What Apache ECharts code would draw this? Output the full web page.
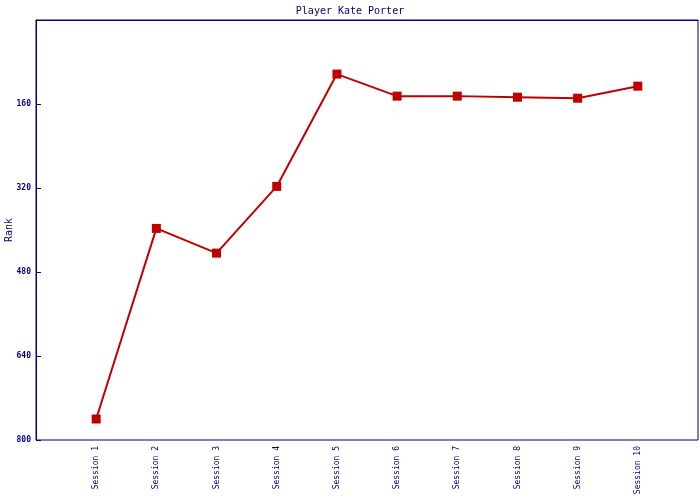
<!DOCTYPE html>
<html><head><meta charset="utf-8">
<script src="https://cdn.jsdelivr.net/npm/echarts@6/dist/echarts.min.js"></script>
<style>html,body{margin:0;padding:0;background:#fff}#c{width:700px;height:500px}</style>
</head><body><div id="c"></div>
<script>
const categories = ['Session 1','Session 2','Session 3','Session 4','Session 5','Session 6','Session 7','Session 8','Session 9','Session 10'];
const ranks = [760, 397, 444, 317, 103, 145, 145, 147, 149, 126];
const yTicks = [160, 320, 480, 640, 800];

const navy = '#000080';
const font = 'DejaVu Sans Mono';
const chart = echarts.init(document.getElementById('c'));
chart.setOption({
  animation: false,
  title: { text: 'Player Kate Porter', left: 'center', top: 1,
    textStyle: { color: navy, fontFamily: font, fontSize: 10, fontWeight: 'normal' } },
  grid: { left: 36, right: 2, top: 20, bottom: 60, show: true, borderColor: navy, borderWidth: 1,
    containLabel: false, outerBoundsMode: 'none' },
  xAxis: {
    type: 'value', min: 0, max: categories.length + 1, interval: 1,
    axisLine: { lineStyle: { color: navy } },
    axisTick: { show: false },
    splitLine: { show: false },
    axisLabel: { rotate: 90, margin: 6, color: navy, fontFamily: font, fontSize: 8,
      formatter: v => (v >= 1 && v <= categories.length) ? categories[v - 1] : '' }
  },
  yAxis: {
    type: 'value', inverse: true, min: 0, max: 800, interval: 160,
    name: 'Rank', nameLocation: 'middle', nameGap: 22, nameMoveOverlap: false,
    nameTextStyle: { color: navy, fontFamily: font, fontSize: 10 },
    axisLine: { show: true, lineStyle: { color: navy } },
    axisTick: { show: true, inside: true, length: 5, lineStyle: { color: navy } },
    splitLine: { show: false },
    axisLabel: { color: navy, fontFamily: font, fontSize: 8, fontWeight: 'bold', margin: 5,
      formatter: v => yTicks.includes(v) ? String(v) : '' }
  },
  series: [{
    type: 'line',
    data: ranks.map((r, i) => [i + 1, r]),
    symbol: 'rect', symbolSize: 9, showSymbol: true,
    itemStyle: { color: '#C00000' },
    lineStyle: { color: '#C00000', width: 2 }
  }]
});
</script></body></html>
